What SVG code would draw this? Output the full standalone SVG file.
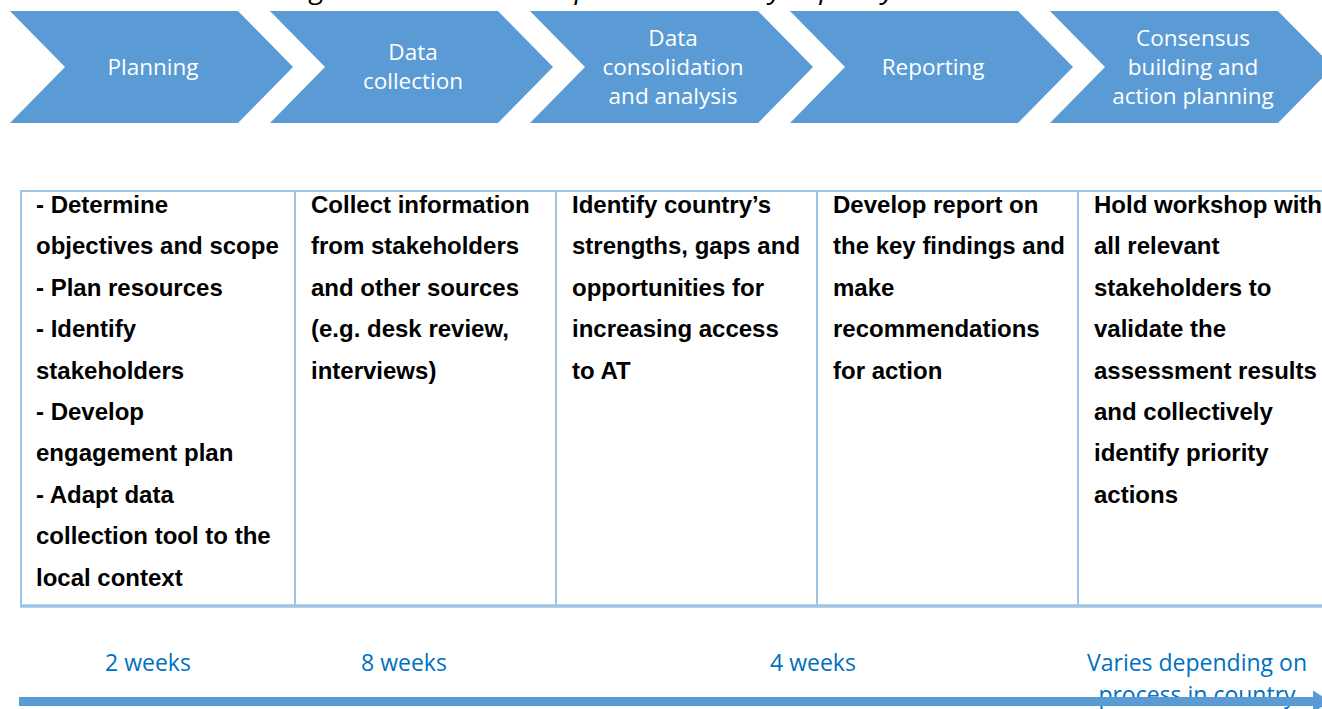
<svg xmlns="http://www.w3.org/2000/svg" width="1322" height="709" viewBox="0 0 1322 709">
  <style>
    .caption { font-family: "Open Sans", "Liberation Sans", sans-serif; font-style: italic; font-size: 27px; fill: #000000; }
    .chev { fill: #5B9BD5; }
    .chev-label { font-family: "Open Sans", "Noto Sans", sans-serif; font-size: 22.5px; fill: #FFFFFF; text-anchor: middle; }
    .cell-text { font-family: "Liberation Sans", Arial, sans-serif; font-weight: bold; font-size: 24px; fill: #000000; }
    .grid { stroke: #9DC3E6; fill: none; }
    .duration { font-family: "Open Sans", "Noto Sans", sans-serif; font-size: 23px; fill: #0070C0; text-anchor: middle; }
    .timeline { stroke: #5B9BD5; stroke-width: 9; fill: none; }
  </style>
  <defs>
    <path id="chevron" d="M0,11 L228,11 L283,67 L228,123 L0,123 L55,67 Z"/>
    <marker id="timeline-head" markerUnits="userSpaceOnUse" markerWidth="18" markerHeight="24" refX="0" refY="12" orient="auto">
      <path d="M0,1 L17,12 L0,23 Z" fill="#5B9BD5"/>
    </marker>
  </defs>

  <!-- caption, mostly above the top edge -->
  <text class="caption" x="289" y="-2.5" textLength="760" lengthAdjust="spacingAndGlyphs">Figure 1. Process to implement country capacity assessment</text>

  <!-- process chevrons -->
  <g id="step-planning">
    <use href="#chevron" class="chev" x="10"/>
    <text class="chev-label" x="153" y="75">Planning</text>
  </g>
  <g id="step-data-collection">
    <use href="#chevron" class="chev" x="270"/>
    <text class="chev-label" x="413" y="60">Data</text>
    <text class="chev-label" x="413" y="89">collection</text>
  </g>
  <g id="step-consolidation">
    <use href="#chevron" class="chev" x="530"/>
    <text class="chev-label" x="673" y="46">Data</text>
    <text class="chev-label" x="673" y="75">consolidation</text>
    <text class="chev-label" x="673" y="104">and analysis</text>
  </g>
  <g id="step-reporting">
    <use href="#chevron" class="chev" x="790"/>
    <text class="chev-label" x="933" y="75">Reporting</text>
  </g>
  <g id="step-consensus">
    <use href="#chevron" class="chev" x="1050"/>
    <text class="chev-label" x="1193" y="46">Consensus</text>
    <text class="chev-label" x="1193" y="75">building and</text>
    <text class="chev-label" x="1193" y="104">action planning</text>
  </g>

  <!-- activity table grid -->
  <g id="table-grid" class="grid">
    <line x1="20" y1="191" x2="1322" y2="191" stroke-width="2"/>
    <line x1="20" y1="606" x2="1322" y2="606" stroke-width="3.5"/>
    <line x1="21" y1="190" x2="21" y2="605" stroke-width="2"/>
    <line x1="295" y1="190" x2="295" y2="605" stroke-width="2"/>
    <line x1="556" y1="190" x2="556" y2="605" stroke-width="2"/>
    <line x1="817" y1="190" x2="817" y2="605" stroke-width="2"/>
    <line x1="1078" y1="190" x2="1078" y2="605" stroke-width="2"/>
  </g>

  <g id="cell-planning" class="cell-text">
    <text x="36" y="213">- Determine</text>
    <text x="36" y="254.4">objectives and scope</text>
    <text x="36" y="295.8">- Plan resources</text>
    <text x="36" y="337.2">- Identify</text>
    <text x="36" y="378.6">stakeholders</text>
    <text x="36" y="420">- Develop</text>
    <text x="36" y="461.4">engagement plan</text>
    <text x="36" y="502.8">- Adapt data</text>
    <text x="36" y="544.2">collection tool to the</text>
    <text x="36" y="585.6">local context</text>
  </g>
  <g id="cell-data-collection" class="cell-text">
    <text x="311" y="213">Collect information</text>
    <text x="311" y="254.4">from stakeholders</text>
    <text x="311" y="295.8">and other sources</text>
    <text x="311" y="337.2">(e.g. desk review,</text>
    <text x="311" y="378.6">interviews)</text>
  </g>
  <g id="cell-consolidation" class="cell-text">
    <text x="572" y="213">Identify country’s</text>
    <text x="572" y="254.4">strengths, gaps and</text>
    <text x="572" y="295.8">opportunities for</text>
    <text x="572" y="337.2">increasing access</text>
    <text x="572" y="378.6">to AT</text>
  </g>
  <g id="cell-reporting" class="cell-text">
    <text x="833" y="213">Develop report on</text>
    <text x="833" y="254.4">the key findings and</text>
    <text x="833" y="295.8">make</text>
    <text x="833" y="337.2">recommendations</text>
    <text x="833" y="378.6">for action</text>
  </g>
  <g id="cell-consensus" class="cell-text">
    <text x="1094" y="213">Hold workshop with</text>
    <text x="1094" y="254.4">all relevant</text>
    <text x="1094" y="295.8">stakeholders to</text>
    <text x="1094" y="337.2">validate the</text>
    <text x="1094" y="378.6">assessment results</text>
    <text x="1094" y="420">and collectively</text>
    <text x="1094" y="461.4">identify priority</text>
    <text x="1094" y="502.8">actions</text>
  </g>

  <!-- durations -->
  <g id="durations" class="duration">
    <text x="148" y="671">2 weeks</text>
    <text x="404" y="671">8 weeks</text>
    <text x="813" y="671">4 weeks</text>
    <text x="1197" y="671">Varies depending on</text>
    <text x="1197" y="703">process in country</text>
  </g>

  <!-- timeline arrow -->
  <g id="connectors">
    <line class="timeline" x1="19" y1="701.5" x2="1313" y2="701.5" marker-end="url(#timeline-head)"/>
  </g>
</svg>
